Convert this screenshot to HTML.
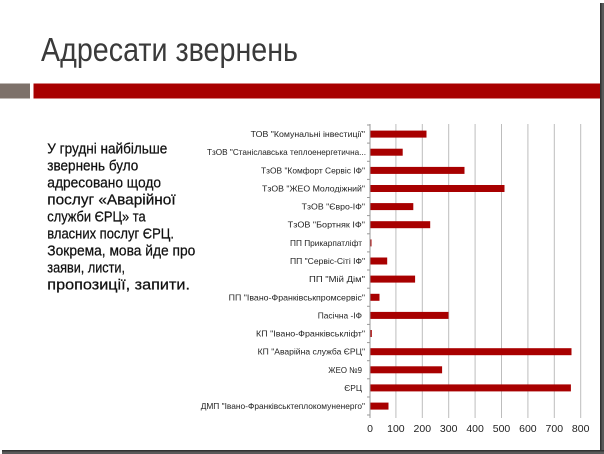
<!DOCTYPE html>
<html><head><meta charset="utf-8"><style>
html,body{margin:0;padding:0;background:#fff;}
svg{display:block;}
</style></head><body>
<svg width="604" height="454" viewBox="0 0 604 454" xmlns="http://www.w3.org/2000/svg">
<rect x="0" y="0" width="604" height="454" fill="#fff"/>
<!-- frame shadow -->
<rect x="600" y="3" width="4" height="451" fill="#5a5a5a"/>
<rect x="600" y="3" width="1.5" height="451" fill="#333"/>
<rect x="2" y="450" width="602" height="4" fill="#5a5a5a"/>
<rect x="2" y="450" width="602" height="1.5" fill="#333"/>
<!-- title -->
<text x="41" y="61" font-family="Liberation Sans, sans-serif" font-size="33" fill="#3a3a3a" textLength="257" lengthAdjust="spacingAndGlyphs">Адресати звернень</text>
<!-- bars header -->
<rect x="0" y="83.5" width="30" height="15" fill="#7d716a"/>
<rect x="33.5" y="83.5" width="566.5" height="15" fill="#a80000"/>
<!-- left text -->
<g font-family="Liberation Sans, sans-serif" font-size="15" fill="#111" stroke="#111" stroke-width="0.25">
<text x="47.3" y="153.3" textLength="120" lengthAdjust="spacingAndGlyphs">У грудні найбільше</text>
<text x="47.3" y="170.3" textLength="91" lengthAdjust="spacingAndGlyphs">звернень було</text>
<text x="47.3" y="187.3" textLength="113.7" lengthAdjust="spacingAndGlyphs">адресовано щодо</text>
<text x="47.3" y="204.3" textLength="128.3" lengthAdjust="spacingAndGlyphs">послуг «Аварійної</text>
<text x="47.3" y="221.3" textLength="98.3" lengthAdjust="spacingAndGlyphs">служби ЄРЦ» та</text>
<text x="47.3" y="238.3" textLength="126.7" lengthAdjust="spacingAndGlyphs">власних послуг ЄРЦ.</text>
<text x="47.3" y="255.3" textLength="148" lengthAdjust="spacingAndGlyphs">Зокрема, мова йде про</text>
<text x="47.3" y="272.3" textLength="77.7" lengthAdjust="spacingAndGlyphs">заяви, листи,</text>
<text x="47.3" y="289.3" textLength="142.7" lengthAdjust="spacingAndGlyphs">пропозиції, запити.</text>
</g>
<!-- gridlines -->
<g stroke="#bdbdbd" stroke-width="1">
<line x1="395.9" y1="124" x2="395.9" y2="418"/>
<line x1="422.3" y1="124" x2="422.3" y2="418"/>
<line x1="448.7" y1="124" x2="448.7" y2="418"/>
<line x1="475.1" y1="124" x2="475.1" y2="418"/>
<line x1="501.5" y1="124" x2="501.5" y2="418"/>
<line x1="527.9" y1="124" x2="527.9" y2="418"/>
<line x1="554.3" y1="124" x2="554.3" y2="418"/>
<line x1="580.7" y1="124" x2="580.7" y2="418"/>
</g>
<line x1="370" y1="124" x2="370" y2="418" stroke="#999" stroke-width="1"/>
<g stroke="#999" stroke-width="1">
<line x1="367" y1="125" x2="370" y2="125"/>
<line x1="367" y1="143.1" x2="370" y2="143.1"/>
<line x1="367" y1="161.3" x2="370" y2="161.3"/>
<line x1="367" y1="179.4" x2="370" y2="179.4"/>
<line x1="367" y1="197.5" x2="370" y2="197.5"/>
<line x1="367" y1="215.6" x2="370" y2="215.6"/>
<line x1="367" y1="233.8" x2="370" y2="233.8"/>
<line x1="367" y1="251.9" x2="370" y2="251.9"/>
<line x1="367" y1="270" x2="370" y2="270"/>
<line x1="367" y1="288.2" x2="370" y2="288.2"/>
<line x1="367" y1="306.3" x2="370" y2="306.3"/>
<line x1="367" y1="324.4" x2="370" y2="324.4"/>
<line x1="367" y1="342.6" x2="370" y2="342.6"/>
<line x1="367" y1="360.7" x2="370" y2="360.7"/>
<line x1="367" y1="378.8" x2="370" y2="378.8"/>
<line x1="367" y1="397" x2="370" y2="397"/>
<line x1="367" y1="415" x2="370" y2="415"/>
</g>
<!-- bars -->
<g fill="#a80000">
<rect x="370.5" y="130.6" width="56" height="7"/>
<rect x="370.5" y="148.7" width="32.2" height="7"/>
<rect x="370.5" y="166.9" width="94" height="7"/>
<rect x="370.5" y="185" width="134" height="7"/>
<rect x="370.5" y="203.1" width="42.8" height="7"/>
<rect x="370.5" y="221.2" width="59.7" height="7"/>
<rect x="370.5" y="239.4" width="1" height="7"/>
<rect x="370.5" y="257.5" width="16.7" height="7"/>
<rect x="370.5" y="275.6" width="44.6" height="7"/>
<rect x="370.5" y="293.8" width="9" height="7"/>
<rect x="370.5" y="311.9" width="78" height="7"/>
<rect x="370.5" y="330" width="1.3" height="7"/>
<rect x="370.5" y="348.2" width="201" height="7"/>
<rect x="370.5" y="366.3" width="71.6" height="7"/>
<rect x="370.5" y="384.4" width="200.4" height="7"/>
<rect x="370.5" y="402.6" width="18" height="7"/>
</g>
<!-- category labels -->
<g font-family="Liberation Sans, sans-serif" font-size="8.5" fill="#222" text-anchor="end">
<text x="365" y="137.1" textLength="114.3" lengthAdjust="spacingAndGlyphs">ТОВ "Комунальні інвестиції"</text>
<text x="366" y="155.2" textLength="159" lengthAdjust="spacingAndGlyphs">ТзОВ "Станіславська теплоенергетична...</text>
<text x="365" y="173.4" textLength="104" lengthAdjust="spacingAndGlyphs">ТзОВ "Комфорт Сервіс ІФ"</text>
<text x="365" y="191.5" textLength="103" lengthAdjust="spacingAndGlyphs">ТзОВ "ЖЕО Молодіжний"</text>
<text x="365" y="209.6" textLength="63.3" lengthAdjust="spacingAndGlyphs">ТзОВ "Євро-ІФ"</text>
<text x="365" y="227.7" textLength="77.3" lengthAdjust="spacingAndGlyphs">ТзОВ  "Бортняк ІФ"</text>
<text x="362" y="245.9" textLength="72" lengthAdjust="spacingAndGlyphs">ПП Прикарпатліфт</text>
<text x="365" y="264" textLength="75" lengthAdjust="spacingAndGlyphs">ПП "Сервіс-Сіті ІФ"</text>
<text x="365" y="282.1" textLength="56" lengthAdjust="spacingAndGlyphs">ПП "Мій Дім"</text>
<text x="365" y="300.3" textLength="136.3" lengthAdjust="spacingAndGlyphs">ПП "Івано-Франківськпромсервіс"</text>
<text x="362" y="318.4" textLength="44.3" lengthAdjust="spacingAndGlyphs">Пасічна -ІФ</text>
<text x="365" y="336.5" textLength="109" lengthAdjust="spacingAndGlyphs">КП "Івано-Франківськліфт"</text>
<text x="365" y="354.7" textLength="107.3" lengthAdjust="spacingAndGlyphs">КП "Аварійна служба ЄРЦ"</text>
<text x="362" y="372.8" textLength="33.7" lengthAdjust="spacingAndGlyphs">ЖЕО №9</text>
<text x="362" y="390.9" textLength="17.7" lengthAdjust="spacingAndGlyphs">ЄРЦ</text>
<text x="365" y="409.1" textLength="164.3" lengthAdjust="spacingAndGlyphs">ДМП "Івано-Франківськтеплокомуненерго"</text>
</g>
<!-- x tick labels -->
<g font-family="Liberation Sans, sans-serif" font-size="10.5" fill="#222" text-anchor="middle">
<text x="370" y="432">0</text>
<text x="395.9" y="432">100</text>
<text x="422.3" y="432">200</text>
<text x="448.7" y="432">300</text>
<text x="475.1" y="432">400</text>
<text x="501.5" y="432">500</text>
<text x="527.9" y="432">600</text>
<text x="554.3" y="432">700</text>
<text x="580.7" y="432">800</text>
</g>
</svg>
</body></html>
